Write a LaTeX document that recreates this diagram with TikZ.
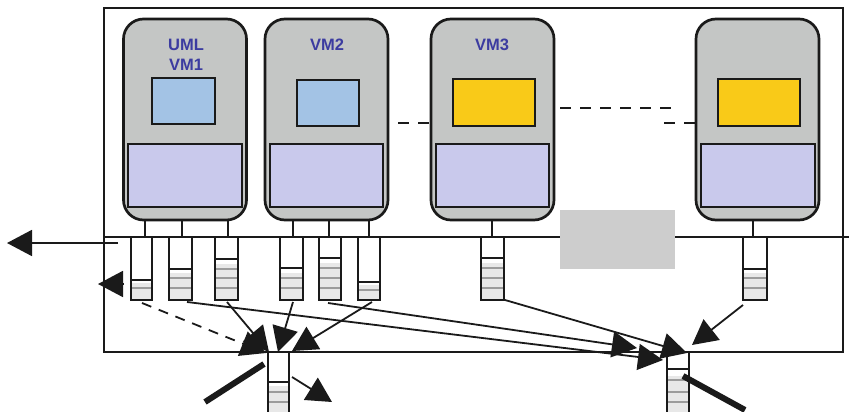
\documentclass[tikz,border=0pt]{standalone}
\usepackage{fontspec}
\setmainfont{Liberation Sans}
\usetikzlibrary{arrows.meta}

\definecolor{vmgray}{HTML}{C4C6C5}
\definecolor{appblue}{HTML}{A3C3E5}
\definecolor{appyellow}{HTML}{F9CA18}
\definecolor{kernlav}{HTML}{C9C9EC}
\definecolor{lbl}{HTML}{3C3CA0}
\definecolor{ink}{HTML}{1A1A1A}
\definecolor{qlight}{HTML}{E8E8E8}
\definecolor{qstripe}{HTML}{9C9C9C}
\definecolor{padgray}{HTML}{CDCDCD}

\tikzset{
  vm/.style={draw=ink, fill=vmgray, line width=2.7pt, rounded corners=20pt,
    minimum width=123pt, minimum height=201pt, inner sep=0pt},
  appbox/.style={draw=ink, line width=2.3pt, inner sep=0pt},
  kernbox/.style={draw=ink, fill=kernlav, line width=2.3pt, inner sep=0pt,
    minimum height=63pt},
  vmlabel/.style={text=lbl, font=\fontsize{16.5}{20}\selectfont\bfseries, align=center},
  link/.style={ink, line width=2pt},
  qedge/.style={ink, line width=2.5pt},
  qband/.style={qstripe, line width=2pt},
  flow/.style={ink, line width=1.8pt, -{Triangle[length=25pt,width=26pt]}},
  dashflow/.style={flow, dash pattern=on 10pt off 8pt},
  thick stub/.style={ink, line width=6pt},
  vmdash/.style={ink, line width=2.5pt, dash pattern=on 11pt off 9pt},
}

% queue: name, left x, right x, top y, bottom y, level y, fill start y, band list
\newcommand\drawqueue[8]{%
  \fill[qlight] (#2,#7) rectangle (#3,#5);
  \foreach \s in {#8} {\draw[qband] (#2,\s) -- (#3,\s);}
  \draw[qedge] (#2,#6) -- (#3,#6);
  \draw[qedge] (#2,#4) -- (#2,#5) -- (#3,#5) -- (#3,#4);
  \coordinate (#1) at ({(#2+#3)/2},#5);
}

\begin{document}
\begin{tikzpicture}[x=1pt, y=-1pt]
\useasboundingbox (0,0) rectangle (849,412);

% host frame
\draw[ink, line width=2pt] (104,8) rectangle (843,352);

% virtual machines
\node[vm] (vm1) at (185,119.5) {};
\node[vm] (vm2) at (326.5,119.5) {};
\node[vm] (vm3) at (492.5,119.5) {};
\node[vm] (vm4) at (757.5,119.5) {};

\node[appbox, fill=appblue, minimum width=63pt, minimum height=46pt] (app1) at (183.5,101) {};
\node[appbox, fill=appblue, minimum width=62pt, minimum height=46pt] (app2) at (328,103) {};
\node[appbox, fill=appyellow, minimum width=82pt, minimum height=47pt] (app3) at (494,102.5) {};
\node[appbox, fill=appyellow, minimum width=82pt, minimum height=47pt] (app4) at (759,102.5) {};

\node[kernbox, minimum width=114pt] (k1) at (185,175.5) {};
\node[kernbox, minimum width=113pt] (k2) at (326.5,175.5) {};
\node[kernbox, minimum width=113pt] (k3) at (492.5,175.5) {};
\node[kernbox, minimum width=114pt] (k4) at (758,175.5) {};

\node[vmlabel] (l1) at (186,55) {UML\\VM1};
\node[vmlabel] (l2) at (327,45) {VM2};
\node[vmlabel] (l3) at (492,45) {VM3};

% dashes between the machines
\coordinate (d1a) at (398,123); \coordinate (d1b) at (431,123);
\coordinate (d2a) at (560,108); \coordinate (d2b) at (677,108);
\coordinate (d3a) at (664,123); \coordinate (d3b) at (696,123);
\draw[vmdash] (d1a) -- (d1b);
\draw[vmdash] (d2a) -- (d2b);
\draw[vmdash] (d3a) -- (d3b);

% shared bus
\coordinate (busL) at (104,237);
\coordinate (busR) at (849,237);
\draw[link] (busL) -- (busR);

% machine taps onto the bus
\foreach \x in {145,182,228,293,329,369,492,753} {\draw[link] (\x,220) -- (\x,237);}

% grey pad over the bus
\node[fill=padgray, minimum width=115pt, minimum height=59pt, inner sep=0pt] (pad) at (617.5,239.5) {};

% queues under the bus
\drawqueue{q1}{131}{152}{237}{300}{280}{283}{288}
\drawqueue{q2}{169}{192}{237}{300}{269}{273}{278,288}
\drawqueue{q3}{215}{238}{237}{300}{259}{264}{269,278,288}
\drawqueue{q4}{280}{303}{237}{300}{268}{273}{278,288}
\drawqueue{q5}{319}{341}{237}{300}{258}{263}{268,278,288}
\drawqueue{q6}{358}{380}{237}{300}{282}{285}{290}
\drawqueue{q7}{481}{504}{237}{300}{258}{263}{268,278,288}
\drawqueue{q8}{743}{767}{237}{300}{269}{273}{278,288}

% outgoing queues below the frame
\drawqueue{qA}{268}{289}{352}{420}{382}{386}{392,402}
\drawqueue{qB}{667}{689}{352}{420}{369}{376}{380,392,402}

% connector ends
\coordinate (o1) at (142,303);
\coordinate (o2) at (187,302);
\coordinate (o3) at (227,302);
\coordinate (o4) at (293,302);
\coordinate (o5) at (328,303);
\coordinate (o6) at (372,302);
\coordinate (o7) at (505,300);
\coordinate (o8) at (743,305);

\coordinate (a1) at (266,353);
\coordinate (a3) at (269,352);
\coordinate (a4) at (278,352);
\coordinate (a6) at (292,351);

\coordinate (b5) at (637,348);
\coordinate (b2) at (663,360);
\coordinate (b7) at (687,353);
\coordinate (b8) at (692,345);

\coordinate (outL) at (118,243);
\coordinate (tipL) at (7,243);
\coordinate (sideS) at (124,284);
\coordinate (sideT) at (98,284);

\coordinate (aOut) at (292,377);
\coordinate (aOutT) at (332,402);
\coordinate (aIn) at (205,402);
\coordinate (aInE) at (264,364);
\coordinate (bIn) at (745,410);
\coordinate (bInE) at (683,376);

% traffic into queue A
\draw[dashflow] (o1) -- (a1);
\draw[flow] (o3) -- (a3);
\draw[flow] (o4) -- (a4);
\draw[flow] (o6) -- (a6);

% traffic into queue B
\draw[flow] (o5) -- (b5);
\draw[flow] (o2) -- (b2);
\draw[flow] (o7) -- (b7);
\draw[flow] (o8) -- (b8);

% external links
\draw[flow] (outL) -- (tipL);
\draw[flow] (sideS) -- (sideT);
\draw[flow] (aOut) -- (aOutT);
\draw[thick stub] (aIn) -- (aInE);
\draw[thick stub] (bInE) -- (bIn);
\end{tikzpicture}
\end{document}
